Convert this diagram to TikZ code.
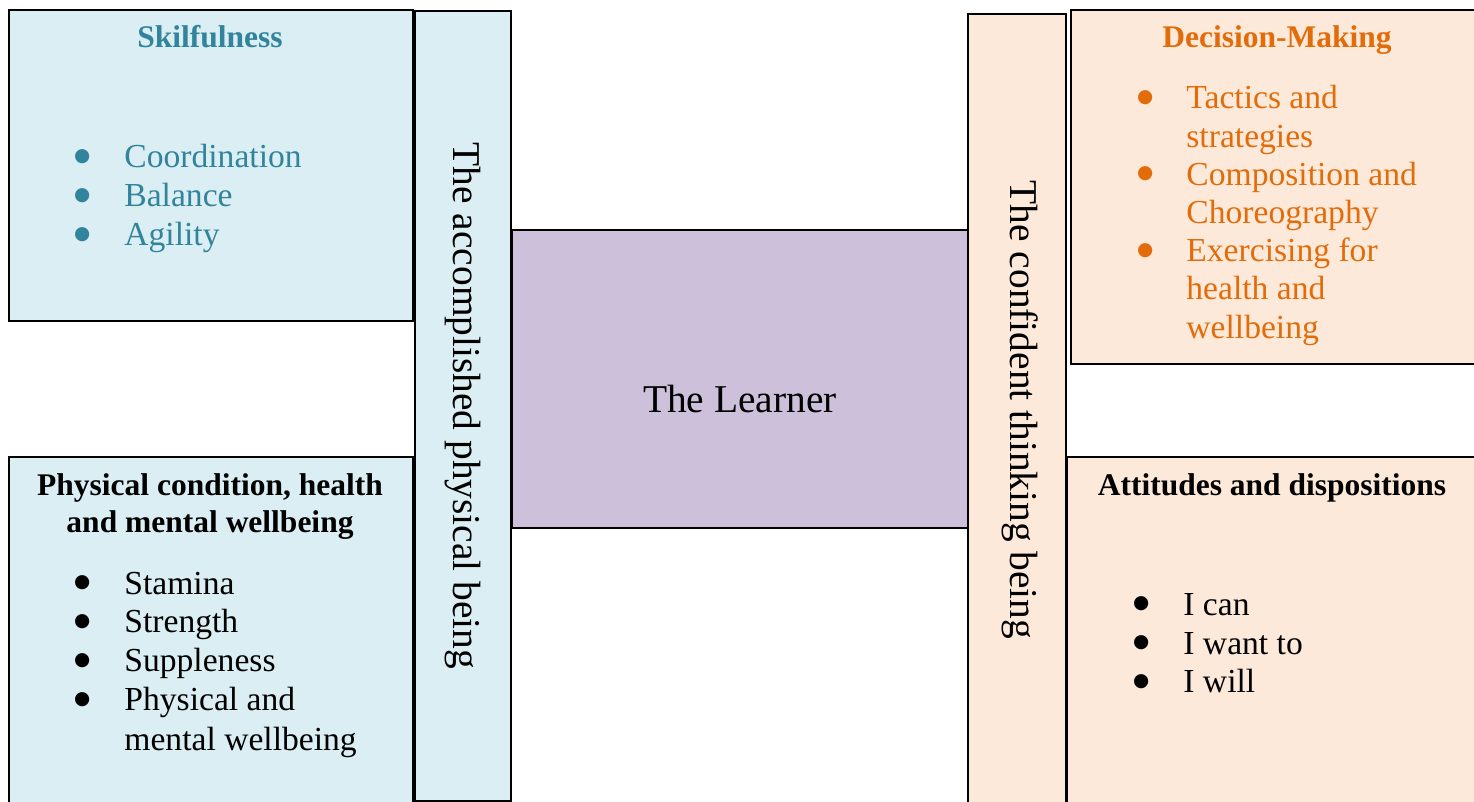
\documentclass[tikz,border=0pt]{standalone}
\usepackage{fontspec}
\setmainfont{Liberation Serif}
\newfontfamily\mysymfont{DejaVu Sans}
\usepackage{array}
\definecolor{blueFill}{HTML}{DAEEF3}
\definecolor{peachFill}{HTML}{FDE9D9}
\definecolor{purpleFill}{HTML}{CCC0DA}
\definecolor{tealText}{HTML}{31849B}
\definecolor{orangeText}{HTML}{E36C0A}
\newcommand\mybodyfont{\fontsize{16.8pt}{19.5pt}\selectfont}
\newcommand\mydecfont{\fontsize{16.8pt}{19.1pt}\selectfont}
\newcommand\mytitlefont{\fontsize{15.75pt}{18.5pt}\selectfont\bfseries}
\newcommand\mybigfont{\fontsize{19.7pt}{23pt}\selectfont}
\newcommand\mybul{\hspace*{-1.1pt}{\mysymfont\fontsize{9.3pt}{9.3pt}\selectfont\raisebox{3.3pt}{●}}}
\begin{document}
\begin{tikzpicture}[x=0.5pt,y=-0.5pt,
  box/.style={draw=black, line width=1pt, inner sep=0pt, anchor=north west},
  txt/.style={inner sep=0pt, anchor=base},
  lst/.style={inner sep=0pt, anchor=base west}]
\useasboundingbox (0,0) rectangle (1474,802);
% boxes
\node[box, fill=blueFill, minimum width=202pt, minimum height=155.5pt] (skil) at (8,9) {};
\node[box, fill=blueFill, minimum width=202pt, minimum height=180pt] (phys) at (8,456) {};
\node[box, fill=blueFill, minimum width=48pt, minimum height=395pt] (accstrip) at (414,10) {};
\node[box, fill=purpleFill, minimum width=228pt, minimum height=149pt] (learner) at (511,229) {};
\node[box, fill=peachFill, minimum width=49pt, minimum height=400pt] (constrip) at (967,13) {};
\node[box, fill=peachFill, minimum width=210pt, minimum height=177pt] (dec) at (1070,9) {};
\node[box, fill=peachFill, minimum width=210pt, minimum height=180pt] (att) at (1066,456) {};
% Skilfulness
\node[txt, font=\mytitlefont, text=tealText] (skilT) at (210,48) {Skilfulness};
\node[lst, font=\mybodyfont, text=tealText] (skilL) at (76,168)
  {\begin{tabular}[t]{@{}p{24pt}@{}l@{}}\mybul&Coordination\\\mybul&Balance\\\mybul&Agility\end{tabular}};
% Physical condition
\node[txt, font=\mytitlefont] (physT) at (210,495)
  {\begin{tabular}[t]{@{}c@{}}Physical condition, health\\and mental wellbeing\end{tabular}};
\node[lst, font=\mybodyfont] (physL) at (76,594)
  {\begin{tabular}[t]{@{}p{24pt}@{}l@{}}\mybul&Stamina\\\mybul&Strength\\\mybul&Suppleness\\\mybul&Physical and\\&mental wellbeing\end{tabular}};
% Decision-Making
\node[txt, font=\mytitlefont, text=orangeText] (decT) at (1277,48) {Decision-Making};
\node[lst, font=\mydecfont, text=orangeText] (decL) at (1139,109)
  {\begin{tabular}[t]{@{}p{23.5pt}@{}l@{}}\mybul&Tactics and\\&strategies\\\mybul&Composition and\\&Choreography\\\mybul&Exercising for\\&health and\\&wellbeing\end{tabular}};
% Attitudes
\node[txt, font=\mytitlefont] (attT) at (1272,495) {Attitudes and dispositions};
\node[lst, font=\mybodyfont] (attL) at (1135,615)
  {\begin{tabular}[t]{@{}p{24pt}@{}l@{}}\mybul&I can\\\mybul&I want to\\\mybul&I will\end{tabular}};
% centre and strips
\node[txt, font=\mybigfont] (learnerT) at (740,413) {The Learner};
\node[txt, font=\mybigfont, rotate=-90] (accT) at (453,406) {The accomplished physical being};
\node[txt, font=\mybigfont, rotate=-90] (conT) at (1010,410) {The confident thinking being};
\end{tikzpicture}
\end{document}
